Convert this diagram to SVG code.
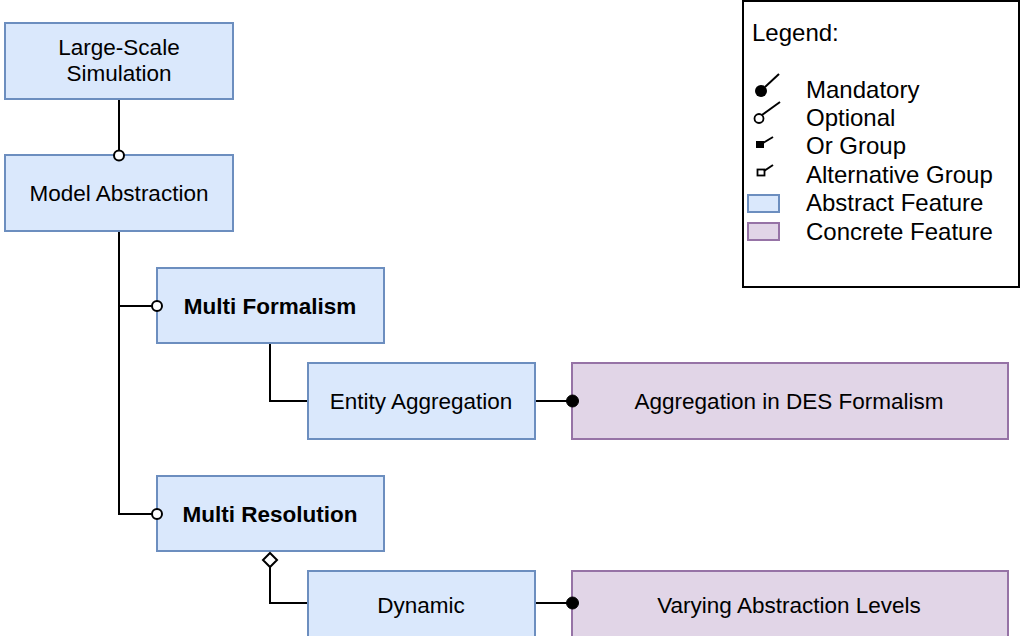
<svg xmlns="http://www.w3.org/2000/svg" width="1021" height="636" viewBox="0 0 1021 636">
<style>
.abs{fill:#dae8fc;stroke:#6c8ebf;stroke-width:2}
.con{fill:#e1d5e7;stroke:#9673a6;stroke-width:2}
.t{font-family:"Liberation Sans",Arial,sans-serif;font-size:22.5px;fill:#000;text-anchor:middle}
.b{font-weight:bold}
.lg{font-family:"Liberation Sans",Arial,sans-serif;font-size:24px;fill:#000}
.ln{fill:none;stroke:#000;stroke-width:2}
.opt{fill:#fff;stroke:#000;stroke-width:2}
.man{fill:#000;stroke:#000;stroke-width:1}
</style>
<rect width="1021" height="636" fill="#fff"/>
<g id="large-scale-simulation">
<rect class="abs" x="5" y="23" width="228" height="76"/>
<text class="t" x="119" y="55">Large-Scale</text>
<text class="t" x="119" y="81">Simulation</text>
</g>
<g id="model-abstraction">
<rect class="abs" x="5" y="155" width="228" height="76"/>
<text class="t" x="119" y="201">Model Abstraction</text>
</g>
<g id="multi-formalism">
<rect class="abs" x="157" y="268" width="227" height="75"/>
<text class="t b" x="270" y="314">Multi Formalism</text>
</g>
<g id="entity-aggregation">
<rect class="abs" x="308" y="363" width="227" height="76"/>
<text class="t" x="421" y="409">Entity Aggregation</text>
</g>
<g id="aggregation-des">
<rect class="con" x="572" y="363" width="436" height="76"/>
<text class="t" x="789" y="409">Aggregation in DES Formalism</text>
</g>
<g id="multi-resolution">
<rect class="abs" x="157" y="476" width="227" height="75"/>
<text class="t b" x="270" y="522">Multi Resolution</text>
</g>
<g id="dynamic">
<rect class="abs" x="308" y="571" width="227" height="76"/>
<text class="t" x="421" y="613">Dynamic</text>
</g>
<g id="varying-abstraction">
<rect class="con" x="572" y="571" width="436" height="76"/>
<text class="t" x="789" y="613">Varying Abstraction Levels</text>
</g>
<g id="connectors">
<path class="ln" d="M119,100 V150"/>
<path class="ln" d="M119,232 V514 H152"/>
<path class="ln" d="M119,306 H152"/>
<path class="ln" d="M270,344 V401 H307"/>
<path class="ln" d="M536,401 H572"/>
<path class="ln" d="M270,567 V603 H307"/>
<path class="ln" d="M536,603 H572"/>
<circle class="opt" cx="119" cy="155.5" r="5"/>
<circle class="opt" cx="157" cy="306" r="5"/>
<circle class="opt" cx="157" cy="514" r="5"/>
<circle class="man" cx="572.5" cy="401" r="6"/>
<circle class="man" cx="572.5" cy="603" r="6"/>
<polygon class="opt" points="270,553 277,560 270,567 263,560"/>
</g>
<g id="legend">
<rect x="743" y="1" width="276" height="286" fill="#fff" stroke="#000" stroke-width="2"/>
<text class="lg" x="752" y="41">Legend:</text>
<circle cx="761" cy="91" r="6" fill="#000"/>
<path class="ln" d="M765,87 L779,74"/>
<circle cx="759" cy="118.5" r="4.5" fill="#fff" stroke="#000" stroke-width="1.8"/>
<path class="ln" d="M762,115 L780,102"/>
<rect x="756" y="141" width="8" height="7" fill="#000"/>
<path class="ln" d="M763,143 L773,137"/>
<rect x="757.5" y="169.5" width="7" height="6" fill="#fff" stroke="#000" stroke-width="1.8"/>
<path class="ln" d="M764,171 L773,165"/>
<rect class="abs" x="748" y="195" width="31" height="17"/>
<rect class="con" x="748" y="223" width="31" height="17"/>
<text class="lg" x="806" y="97.5">Mandatory</text>
<text class="lg" x="806" y="125.5">Optional</text>
<text class="lg" x="806" y="154">Or Group</text>
<text class="lg" x="806" y="182.5">Alternative Group</text>
<text class="lg" x="806" y="211">Abstract Feature</text>
<text class="lg" x="806" y="239.5">Concrete Feature</text>
</g>
</svg>
